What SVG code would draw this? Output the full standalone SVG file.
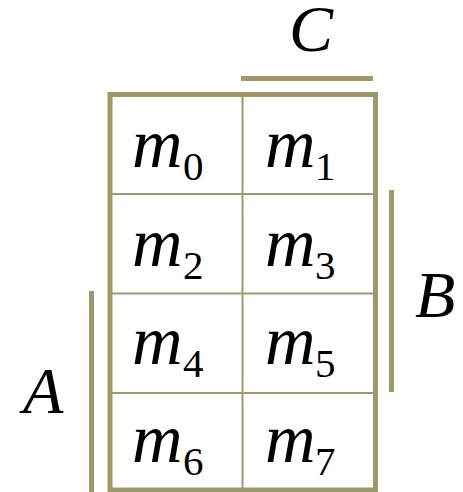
<svg xmlns="http://www.w3.org/2000/svg" width="463" height="492" viewBox="0 0 463 492">
<style>
.outer{fill:none;stroke:#9c9a6a;stroke-width:5}
.inner{stroke:#9c9a6a;stroke-width:2}
.bar{stroke:#9c9a6a;stroke-width:5}
.v{font-family:"Liberation Serif",serif;font-style:italic;font-size:66px;fill:#000}
.m{font-family:"Liberation Serif",serif;font-style:italic;font-size:70px;fill:#000}
.s{font-family:"Liberation Serif",serif;font-size:41px;fill:#000}
</style>
<rect width="463" height="492" fill="#fff"/>
<g id="connectors">
<line class="inner" x1="242.5" y1="94.5" x2="242.5" y2="490"/>
<line class="inner" x1="110" y1="194" x2="375.5" y2="194"/>
<line class="inner" x1="110" y1="293.5" x2="375.5" y2="293.5"/>
<line class="inner" x1="110" y1="393" x2="375.5" y2="393"/>
<rect class="outer" x="110" y="94.5" width="265.5" height="395.5"/>
<line class="bar" x1="241" y1="78.5" x2="373" y2="78.5"/>
<line class="bar" x1="91.5" y1="291" x2="91.5" y2="492"/>
<line class="bar" x1="391.5" y1="190" x2="391.5" y2="392"/>
</g>
<g id="labelC"><text class="v" x="289" y="51">C</text></g>
<g id="labelA"><text class="v" x="23" y="413">A</text></g>
<g id="labelB"><text class="v" x="415" y="317">B</text></g>
<g id="m0"><text class="m" x="132" y="167">m</text><text class="s" x="183" y="180">0</text></g>
<g id="m1"><text class="m" x="265" y="167">m</text><text class="s" x="315" y="180">1</text></g>
<g id="m2"><text class="m" x="132" y="265.5">m</text><text class="s" x="183" y="278.5">2</text></g>
<g id="m3"><text class="m" x="265" y="265.5">m</text><text class="s" x="315" y="278.5">3</text></g>
<g id="m4"><text class="m" x="132" y="364">m</text><text class="s" x="183" y="377">4</text></g>
<g id="m5"><text class="m" x="265" y="364">m</text><text class="s" x="315" y="377">5</text></g>
<g id="m6"><text class="m" x="132" y="462">m</text><text class="s" x="183" y="475">6</text></g>
<g id="m7"><text class="m" x="265" y="462">m</text><text class="s" x="315" y="475">7</text></g>
</svg>
